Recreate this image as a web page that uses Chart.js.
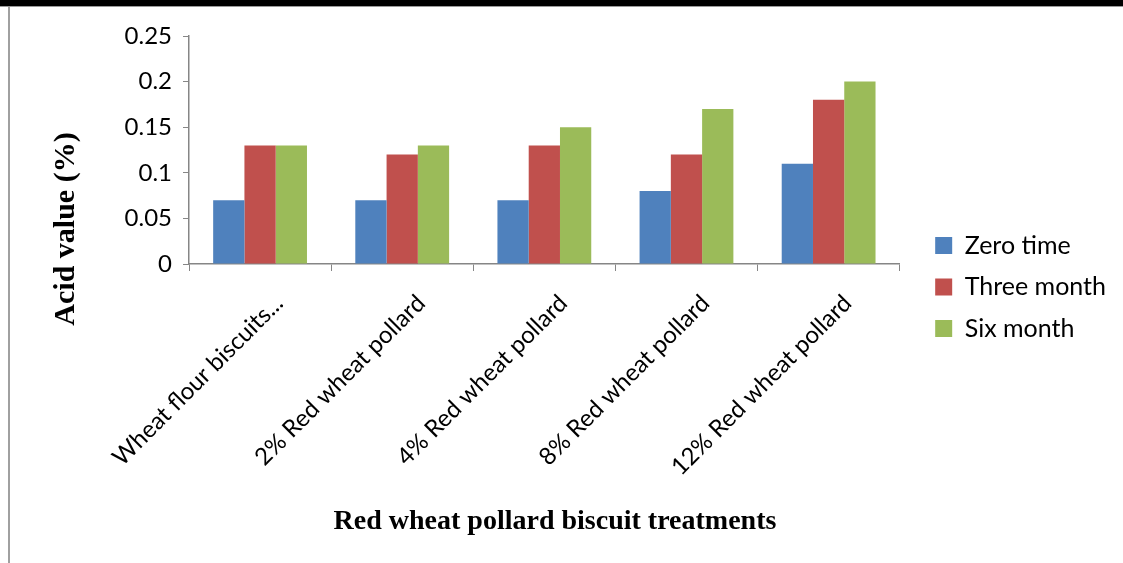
<!DOCTYPE html>
<html>
<head>
<meta charset="utf-8">
<script src="https://cdn.jsdelivr.net/npm/chart.js@4/dist/chart.umd.min.js"></script>
<style>
  html, body { margin: 0; padding: 0; background: #fff; }
  body { width: 1123px; height: 563px; position: relative; overflow: hidden; }
  #topbar { position: absolute; left: 0; top: 0; width: 1123px; height: 6px; background: #000; border-bottom: 1px solid #9a9a9a; }
  #leftline { position: absolute; left: 8px; top: 7px; width: 2px; height: 556px; background: #a0a0a0; }
  #wrap { position: absolute; left: 11px; top: 8px; width: 1112px; height: 555px; }
</style>
</head>
<body>
<div id="topbar"></div>
<div id="leftline"></div>
<div id="wrap"><canvas id="myChart"></canvas></div>
<script>
// data
const categories = ['Wheat flour biscuits...', '2% Red wheat pollard', '4% Red wheat pollard', '8% Red wheat pollard', '12% Red wheat pollard']
const seriesNames = ['Zero time', 'Three month', 'Six month']
const zeroTime = [0.07, 0.07, 0.07, 0.08, 0.11]
const threeMonth = [0.13, 0.12, 0.13, 0.12, 0.18]
const sixMonth = [0.13, 0.13, 0.15, 0.17, 0.20]
const yTickLabels = ['0', '0.05', '0.1', '0.15', '0.2', '0.25']
const xTitle = 'Red wheat pollard biscuit treatments'
const yTitle = 'Acid value (%)'

const colors = ['#4F81BD', '#C0504D', '#9BBB59']
const axisGrey = '#868686'
const tickFont = { family: 'Lato, "Open Sans", sans-serif', size: 24 }
const serif = '"Liberation Serif", "Times New Roman", serif'

// axis titles are drawn here so they can sit where the original puts them
const axisTitles = {
    id: 'axisTitles',
    afterDraw(chart) {
        const ctx = chart.ctx
        ctx.save()
        ctx.fillStyle = '#000'
        ctx.textAlign = 'center'
        ctx.textBaseline = 'middle'
        ctx.font = 'bold 28px ' + serif
        ctx.fillText(xTitle, 544, 514)
        ctx.font = 'bold 30px ' + serif
        ctx.translate(55, 221)
        ctx.rotate(-Math.PI / 2)
        ctx.fillText(yTitle, 0, 0)
        ctx.restore()
    }
}

let allSeries = [zeroTime, threeMonth, sixMonth]
let datasets = []
for (let i = 0; i < allSeries.length; i++) {
    datasets.push({
        label: seriesNames[i],
        data: allSeries[i],
        backgroundColor: colors[i],
        borderWidth: 0,
        categoryPercentage: 0.66,
        barPercentage: 1.0
    })
}

var canvas = document.getElementById('myChart')
var config = {
    type: 'bar',
    data: { labels: categories, datasets: datasets },
    plugins: [axisTitles],
    options: {
        responsive: true,
        maintainAspectRatio: false,
        animation: false,
        layout: { padding: { top: 28, right: 7, bottom: 25, left: 0 } },
        plugins: {
            tooltip: { enabled: false },
            legend: {
                position: 'right',
                maxWidth: 260,
                labels: {
                    boxWidth: 17,
                    boxHeight: 17,
                    padding: 16.5,
                    color: '#000',
                    font: { family: 'Lato, "Open Sans", sans-serif', size: 25 }
                }
            }
        },
        scales: {
            x: {
                grid: { drawOnChartArea: false, offset: true, tickLength: 7, color: axisGrey },
                border: { color: axisGrey, width: 1.5 },
                ticks: { color: '#000', font: tickFont, minRotation: 45, maxRotation: 45, padding: 18, labelOffset: 19, autoSkip: false },
                afterFit: function(scale) { scale.height = 274 }
            },
            y: {
                min: 0,
                max: 0.25,
                ticks: {
                    stepSize: 0.05,
                    color: '#000',
                    font: tickFont,
                    padding: 11,
                    callback: function(value, index) { return yTickLabels[index] }
                },
                grid: { drawOnChartArea: false, tickLength: 6, color: axisGrey },
                border: { color: axisGrey, width: 1.5 },
                afterFit: function(scale) { scale.width = 178 }
            },
            // empty gap between the plot and the legend
            gap: {
                type: 'linear',
                position: 'right',
                ticks: { display: false },
                grid: { display: false },
                border: { display: false },
                afterFit: function(scale) { scale.width = 19 }
            }
        }
    }
}
myChart = new Chart(canvas, config)
</script>
</body>
</html>
